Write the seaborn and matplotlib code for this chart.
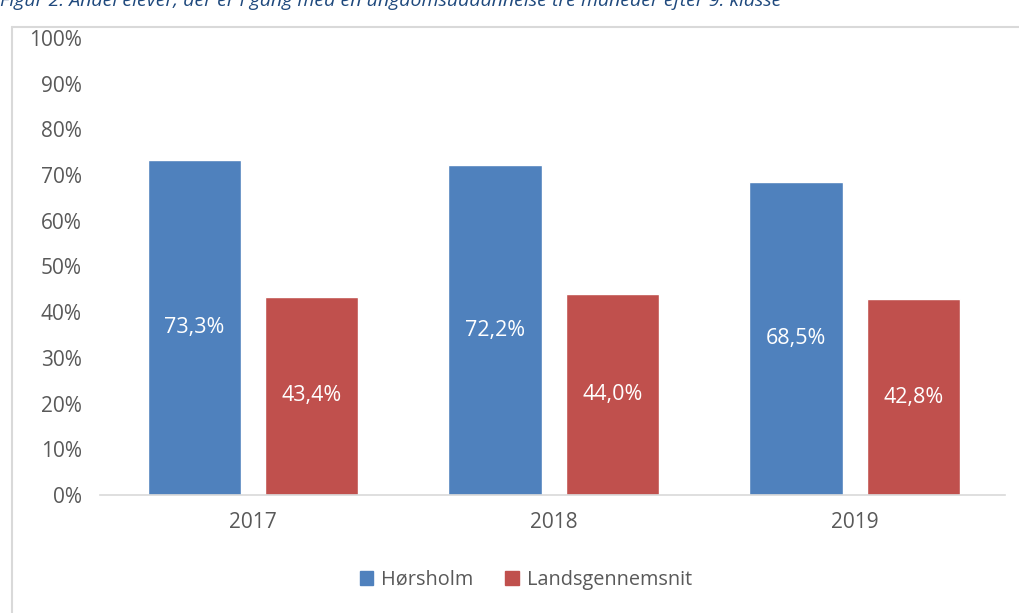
import matplotlib
matplotlib.use("Agg")
import matplotlib.pyplot as plt
import seaborn as sns
import pandas as pd
from matplotlib.lines import Line2D
from matplotlib.patches import Patch

years = ["2017", "2018", "2019"]
series = ["Hørsholm", "Landsgennemsnit"]
hoersholm = [73.3, 72.2, 68.5]
lands = [43.4, 44.0, 42.8]
colors = ["#4F81BD", "#C0504D"]
title = "Figur 2: Andel elever, der er i gang med en ungdomsuddannelse tre måneder efter 9. klasse"

df = pd.DataFrame({
    "year": years * 2,
    "serie": [series[0]] * 3 + [series[1]] * 3,
    "value": hoersholm + lands,
})

sns.set_theme(style="white")
plt.rcParams["font.family"] = ["Open Sans", "DejaVu Sans"]

fig = plt.figure(figsize=(10.2, 6.13), dpi=100)
ax = fig.add_axes([100/1020, 1 - 495/613, 905/1020, (495-38)/613])

sns.barplot(data=df, x="year", y="value", hue="serie", palette=colors,
            width=0.778, gap=0.2, ax=ax, legend=False, saturation=1)

for cont, vals in zip(ax.containers, [hoersholm, lands]):
    for bar, v in zip(cont, vals):
        ax.text(bar.get_x() + bar.get_width()/2, v/2, f"{v:.1f}%".replace(".", ","),
                ha="center", va="center", color="white", fontsize=15.5)

ax.set_ylim(0, 100)
ax.set_xlim(-0.508, 2.499)
ax.set_yticks(range(0, 101, 10))
ax.set_yticklabels([f"{t}%" for t in range(0, 101, 10)])
ax.tick_params(axis="both", colors="#595959", labelsize=15, length=0)
ax.tick_params(axis="y", pad=13)
ax.tick_params(axis="x", pad=12)
for s in ["top", "right", "left"]:
    ax.spines[s].set_visible(False)
ax.spines["bottom"].set_color("#D9D9D9")
ax.spines["bottom"].set_linewidth(1.2)
ax.set_xlabel("")
ax.set_ylabel("")
ax.grid(False)

handles = [Patch(color=c) for c in colors]
fig.legend(handles, series, loc="center", bbox_to_anchor=(526/1020, 1 - 580/613),
           ncol=2, frameon=False, fontsize=14.3, handlelength=0.7, handleheight=0.7,
           handletextpad=0.4, columnspacing=1.6, labelcolor="#595959")

# frame border
fig.add_artist(Line2D([12/1020, 12/1020], [0, 1 - 27/613], color="#D9D9D9", lw=1.5,
                      transform=fig.transFigure))
fig.add_artist(Line2D([12/1020, 1], [1 - 27/613, 1 - 27/613], color="#D9D9D9", lw=1.5,
                      transform=fig.transFigure))

fig.text(0.0, 1 - 6/613, title, ha="left", va="baseline", fontsize=14, style="italic",
         color="#1F497D")

fig.savefig("out.png", dpi=100)
